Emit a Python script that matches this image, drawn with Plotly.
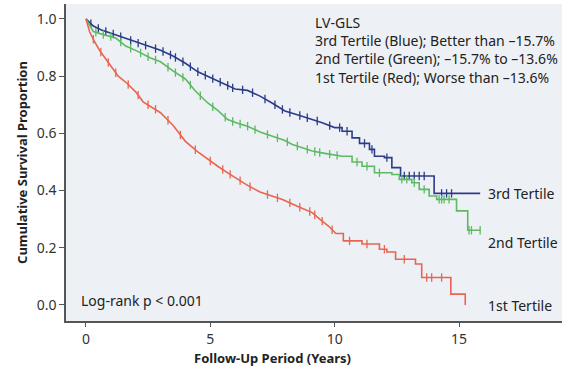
import numpy as np
import plotly.graph_objects as go

# ---- data ----
t_3rd = [0, 0.3, 0.6, 1.0, 1.5, 2.0, 2.5, 3.0, 3.5, 4.0, 4.5, 5.0, 5.5, 6.0, 6.5, 7.0, 7.5,
         8.0, 8.5, 9.0, 9.5, 10.0, 10.3, 10.7, 11.0, 11.4, 11.6, 12.0, 12.3, 12.65, 14.0, 15.85]
s_3rd = [1.0, 0.975, 0.962, 0.950, 0.935, 0.918, 0.905, 0.890, 0.870, 0.845, 0.815, 0.795,
         0.775, 0.755, 0.750, 0.730, 0.705, 0.678, 0.665, 0.652, 0.637, 0.620, 0.607, 0.584,
         0.565, 0.544, 0.520, 0.515, 0.480, 0.451, 0.390, 0.390]

t_2nd = [0, 0.3, 0.7, 1.2, 1.6, 2.0, 2.6, 3.0, 3.5, 4.0, 4.4, 4.9, 5.3, 5.7, 6.1, 6.5, 7.0,
         7.5, 8.0, 8.3, 8.7, 9.1, 9.6, 10.3, 10.7, 11.1, 11.6, 12.3, 12.6, 13.1, 13.4, 13.8,
         14.1, 14.9, 15.35, 15.85]
s_2nd = [1.0, 0.956, 0.945, 0.933, 0.905, 0.890, 0.863, 0.850, 0.818, 0.790, 0.748, 0.706,
         0.680, 0.648, 0.635, 0.625, 0.605, 0.590, 0.575, 0.561, 0.550, 0.538, 0.530, 0.520,
         0.500, 0.485, 0.462, 0.456, 0.439, 0.427, 0.404, 0.381, 0.369, 0.329, 0.261, 0.261]

t_1st = [0, 0.15, 0.35, 0.55, 0.8, 1.0, 1.3, 1.65, 2.0, 2.3, 2.7, 3.0, 3.5, 4.0, 4.5, 4.9,
         5.3, 5.7, 6.1, 6.5, 7.0, 7.5, 7.9, 8.5, 9.1, 9.4, 9.75, 10.05, 10.35, 11.1, 11.8,
         12.1, 12.45, 13.25, 13.5, 14.67, 15.25]
s_1st = [1.0, 0.955, 0.92, 0.89, 0.86, 0.835, 0.80, 0.775, 0.745, 0.71, 0.69, 0.672, 0.628,
         0.572, 0.535, 0.509, 0.485, 0.462, 0.44, 0.418, 0.395, 0.38, 0.369, 0.345, 0.323,
         0.30, 0.276, 0.25, 0.224, 0.213, 0.195, 0.185, 0.16, 0.143, 0.096, 0.038, 0.0]

# time after which the curve is drawn as visible steps (sparse events)
step_from = {"3rd": 10.0, "2nd": 10.3, "1st": 10.05}

cens_3rd = [0.2, 0.5, 0.8, 1.1, 1.4, 1.8, 2.1, 2.4, 2.8, 3.1, 3.4, 3.6, 3.9, 4.2, 4.5, 4.8,
            5.1, 5.4, 5.7, 5.9, 6.3, 6.7, 7.2, 7.6, 7.9, 8.2, 8.6, 8.9, 9.3, 9.8, 10.2, 10.5,
            11.2, 11.5, 12.1, 12.8, 13.0, 13.2, 13.4, 13.6, 14.3, 14.5, 14.7]
cens_2nd = [0.4, 0.7, 1.0, 1.4, 1.8, 2.2, 2.5, 2.8, 3.3, 3.6, 3.9, 4.2, 4.6, 5.1, 5.6, 5.9,
            6.2, 6.5, 6.8, 7.3, 7.7, 8.1, 8.5, 8.9, 9.2, 9.4, 9.8, 10.1, 10.9, 11.3, 11.8,
            12.7, 12.9, 13.2, 13.6, 14.2, 14.3, 14.4, 14.6, 15.4, 15.5, 15.85]
cens_1st = [0.3, 0.6, 0.9, 1.2, 1.7, 2.1, 2.5, 2.8, 3.3, 3.8, 4.4, 5.0, 5.5, 5.8, 6.2, 6.6,
            7.3, 7.7, 8.2, 8.6, 9.0, 9.2, 9.5, 9.9, 10.6, 11.3, 12.0, 12.8, 13.7, 13.9, 14.3]

x_ticks = [0, 5, 10, 15]
y_ticks = [0.0, 0.2, 0.4, 0.6, 0.8, 1.0]
y_ticklabels = ["0.0", "0.2", "0.4", "0.6", "0.8", "1.0"]

legend_lines = ["LV-GLS",
                "3rd Tertile (Blue); Better than \u201315.7%",
                "2nd Tertile (Green); \u201315.7% to \u201313.6%",
                "1st Tertile (Red); Worse than \u201313.6%"]
curve_labels = ["3rd Tertile", "2nd Tertile", "1st Tertile"]

BLUE = "#2C3C88"
GREEN = "#5DBA63"
RED = "#E8654F"
FONT = "Noto Sans"
TXT = "#222222"


def km_path(times, surv, t_step):
    """Linear through dense early part, explicit steps in the sparse tail."""
    px, py = [times[0]], [surv[0]]
    for i in range(1, len(times)):
        if times[i] > t_step:
            px.append(times[i]); py.append(surv[i - 1])
        px.append(times[i]); py.append(surv[i])
    return np.array(px), np.array(py)


def value_at(px, py, tc):
    out = []
    for t in tc:
        idx = np.searchsorted(px, t, side="right") - 1
        idx = min(max(idx, 0), len(px) - 1)
        if idx < len(px) - 1 and px[idx + 1] > px[idx]:
            f = (t - px[idx]) / (px[idx + 1] - px[idx])
            out.append(py[idx] + f * (py[idx + 1] - py[idx]))
        else:
            out.append(py[idx])
    return out


fig = go.Figure()
for key, t, s, c, col in [("3rd", t_3rd, s_3rd, cens_3rd, BLUE),
                          ("2nd", t_2nd, s_2nd, cens_2nd, GREEN),
                          ("1st", t_1st, s_1st, cens_1st, RED)]:
    px, py = km_path(t, s, step_from[key])
    fig.add_trace(go.Scatter(x=px, y=py, mode="lines", line=dict(color=col, width=1.6),
                             showlegend=False, hoverinfo="skip"))
    fig.add_trace(go.Scatter(x=c, y=value_at(px, py, c), mode="markers",
                             marker=dict(symbol="line-ns", size=6,
                                         line=dict(color=col, width=1.3)),
                             showlegend=False, hoverinfo="skip"))

W0, W1 = 66, 562
H0, H1 = 4, 321


def px_to_dom(x, y):
    return (x - W0) / (W1 - W0), 1 - (y - H0) / (H1 - H0)


ann = []
xd, yd = px_to_dom(313, 49.5)
ann.append(dict(x=xd, y=yd, xref="x domain", yref="y domain", text="<br>".join(legend_lines),
                showarrow=False, xanchor="left", yanchor="middle", align="left",
                font=dict(family=FONT, size=14, color=TXT)))

label_py = [193, 242, 305]
for txt, yy in zip(curve_labels, label_py):
    xd, yd = px_to_dom(486, yy)
    ann.append(dict(x=xd, y=yd, xref="x domain", yref="y domain", text=txt, showarrow=False,
                    xanchor="left", yanchor="middle",
                    font=dict(family=FONT, size=14, color=TXT)))

xd, yd = px_to_dom(79, 300)
ann.append(dict(x=xd, y=yd, xref="x domain", yref="y domain", text="Log-rank p < 0.001",
                showarrow=False, xanchor="left", yanchor="middle",
                font=dict(family=FONT, size=14, color=TXT)))

ann.append(dict(x=7.5, y=0, xref="x", yref="paper", yshift=-37,
                text="<b>Follow-Up Period (Years)</b>",
                showarrow=False, xanchor="center", yanchor="middle",
                font=dict(family=FONT, size=13, color=TXT)))

fig.update_layout(
    annotations=ann,
    width=563, height=370,
    margin=dict(l=66, r=1, t=4, b=49),
    paper_bgcolor="white",
    plot_bgcolor="#EDF1F6",
    font=dict(family=FONT, size=14, color="#333333"),
    xaxis=dict(range=[-0.80, 19.14], tickvals=x_ticks, ticks="outside", ticklen=4,
               tickcolor="#555555", showline=True, linecolor="#555555", linewidth=1.5,
               showgrid=False, zeroline=False, tickfont=dict(size=14, color="#333333")),
    yaxis=dict(range=[-0.056, 1.052], tickvals=y_ticks, ticktext=y_ticklabels,
               ticks="outside", ticklen=5, tickcolor="#555555", showline=True,
               linecolor="#555555", linewidth=1.5, showgrid=False, zeroline=False,
               tickfont=dict(size=14, color="#333333"),
               title=dict(text="<b>Cumulative Survival Proportion</b>", standoff=6,
                          font=dict(family=FONT, size=13, color=TXT))),
)

fig.write_html("out.html")
